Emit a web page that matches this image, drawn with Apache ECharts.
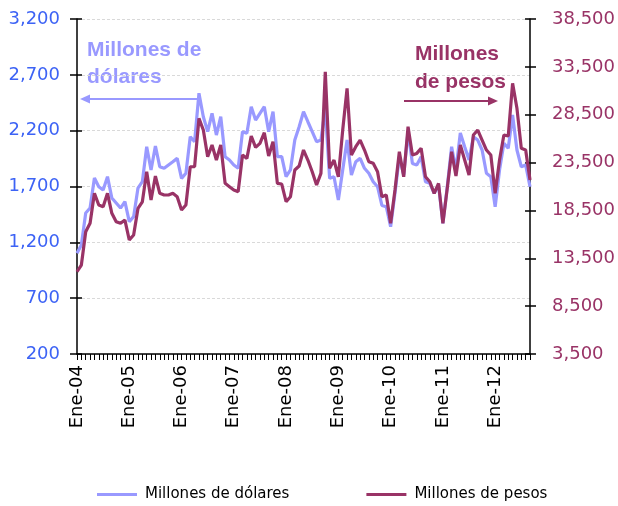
<!DOCTYPE html>
<html>
<head>
<meta charset="utf-8">
<script src="https://cdn.jsdelivr.net/npm/echarts@6/dist/echarts.min.js"></script>
<style>html,body{margin:0;padding:0;background:#fff;}#c{width:618px;height:506px;}</style>
</head>
<body>
<div id="c"></div>
<script>
const monthNames = ['Ene','Feb','Mar','Abr','May','Jun','Jul','Ago','Sep','Oct','Nov','Dic'];
const yearLabels = ['04','05','06','07','08','09','10','11','12'];
const nPoints = 105;

const dolares = [
1102,1176,1463,1507,1776,1698,1668,1788,1597,1552,1507,1564,
1385,1430,1686,1743,2056,1848,2063,1877,1863,1893,1922,1952,
1773,1818,2146,2101,2535,2325,2191,2355,2161,2325,1967,1937,
1892,1863,2191,2176,2415,2295,2355,2415,2191,2370,1967,1967,
1788,1848,2116,2235,2370,2280,2191,2101,2116,2400,1773,1788,
1579,1848,2116,1803,1922,1952,1863,1818,1743,1698,1530,1519,
1340,1639,1967,1803,2191,1907,1893,1967,1743,1728,1639,1713,
1370,1698,2056,1850,2180,2056,1937,2146,2116,2027,1818,1788,
1519,1848,2087,2042,2340,2027,1877,1893,1698];

const pesos = [
12093,12793,16273,17150,20285,19063,18888,20285,18195,17322,17150,17496,
15410,15930,18715,19406,22543,19587,22093,20285,20110,20110,20285,19930,
18540,19063,23066,23066,28123,26900,24110,25333,23765,25333,21330,20980,
20630,20460,24288,23940,26273,25090,25510,26620,24183,25680,21330,21257,
19410,19930,22720,23140,24810,23765,22543,21153,22377,32993,22898,23765,
22020,26900,31258,24288,25160,25855,24810,23590,23420,22543,19930,20110,
17150,20630,24635,22020,27245,24288,24460,24985,22020,21500,20285,21330,
17150,20805,24635,22100,25333,23765,22200,26378,26900,25855,24810,24288,
20285,23765,26378,26274,31780,29168,24985,24810,21670];

const categories = [];
for (let i = 0; i < nPoints; i++) {
  categories.push(monthNames[i % 12] + '-' + yearLabels[Math.floor(i / 12)]);
}

const leftColor = '#3D63F5';
const rightColor = '#993366';
const lightLine = '#9999FF';
const darkLine = '#993366';
const fmt = v => String(v).replace(/\B(?=(\d{3})+(?!\d))/g, ',');

const chart = echarts.init(document.getElementById('c'), null, {renderer: 'canvas'});
chart.setOption({
  animation: false,
  backgroundColor: '#fff',
  grid: {left: 77, right: 87, top: 19, bottom: 152, containLabel: false},
  legend: {
    left: 97, top: 487, padding: 0,
    icon: 'rect', itemWidth: 40, itemHeight: 3, itemGap: 77,
    textStyle: {fontFamily: 'DejaVu Sans', fontSize: 15, color: '#000', padding: [0,0,0,3]},
    data: ['Millones de dólares', 'Millones de pesos']
  },
  xAxis: {
    type: 'category', data: categories, boundaryGap: false,
    axisLine: {lineStyle: {color: '#000', width: 1.5}},
    axisTick: {interval: 0, length: 6, lineStyle: {color: '#000'}},
    axisLabel: {
      interval: (i) => i % 12 === 0, rotate: 90, margin: 11,
      fontFamily: 'DejaVu Sans', fontSize: 18, color: '#000'
    },
    splitLine: {show: false}
  },
  yAxis: [
    {type: 'value', min: 200, max: 3200, interval: 500, position: 'left',
     axisLine: {show: true, lineStyle: {color: '#000', width: 1.5}},
     axisTick: {show: true, length: 7, lineStyle: {color: '#000', width: 1.5}},
     axisLabel: {margin: 17, fontFamily: 'DejaVu Sans', fontSize: 18, color: leftColor, formatter: fmt},
     splitLine: {show: true, lineStyle: {color: '#D9D9D9', type: [3, 2], width: 1}}},
    {type: 'value', min: 3500, max: 38500, interval: 5000, position: 'right',
     axisLine: {show: true, lineStyle: {color: '#000', width: 1.5}},
     axisTick: {show: true, length: 6, lineStyle: {color: '#000', width: 1.5}},
     axisLabel: {margin: 22, fontFamily: 'DejaVu Sans', fontSize: 18, color: rightColor, formatter: fmt},
     splitLine: {show: false}},
    {type: 'value', min: 200, max: 3200, interval: 500, position: 'left',
     axisLine: {show: false},
     axisTick: {show: true, inside: true, length: 5, lineStyle: {color: '#000', width: 1.5}},
     axisLabel: {show: false}, splitLine: {show: false}},
    {type: 'value', min: 3500, max: 38500, interval: 5000, position: 'right',
     axisLine: {show: false},
     axisTick: {show: true, inside: true, length: 5, lineStyle: {color: '#000', width: 1.5}},
     axisLabel: {show: false}, splitLine: {show: false}}
  ],
  series: [
    {name: 'Millones de dólares', type: 'line', yAxisIndex: 0, data: dolares,
     symbol: 'none', lineStyle: {color: lightLine, width: 3.2}, itemStyle: {color: lightLine}},
    {name: 'Millones de pesos', type: 'line', yAxisIndex: 1, data: pesos,
     symbol: 'none', lineStyle: {color: darkLine, width: 3.2}, itemStyle: {color: darkLine}}
  ],
  graphic: [
    {type: 'text', left: 87, top: 40, style: {text: 'Millones de', font: 'bold 21px "Liberation Sans"', fill: lightLine}},
    {type: 'text', left: 87, top: 67, style: {text: 'dólares', font: 'bold 21px "Liberation Sans"', fill: lightLine}},
    {type: 'line', shape: {x1: 88, y1: 99, x2: 199, y2: 99}, style: {stroke: lightLine, lineWidth: 2}},
    {type: 'polygon', shape: {points: [[80, 99], [90, 94.5], [90, 103.5]]}, style: {fill: lightLine}},
    {type: 'text', left: 415, top: 44, style: {text: 'Millones', font: 'bold 21px "Liberation Sans"', fill: darkLine}},
    {type: 'text', left: 415, top: 72, style: {text: 'de pesos', font: 'bold 21px "Liberation Sans"', fill: darkLine}},
    {type: 'line', shape: {x1: 404, y1: 101, x2: 490, y2: 101}, style: {stroke: darkLine, lineWidth: 2}},
    {type: 'polygon', shape: {points: [[498, 101], [488, 96.5], [488, 105.5]]}, style: {fill: darkLine}}
  ]
});
</script>
</body>
</html>
